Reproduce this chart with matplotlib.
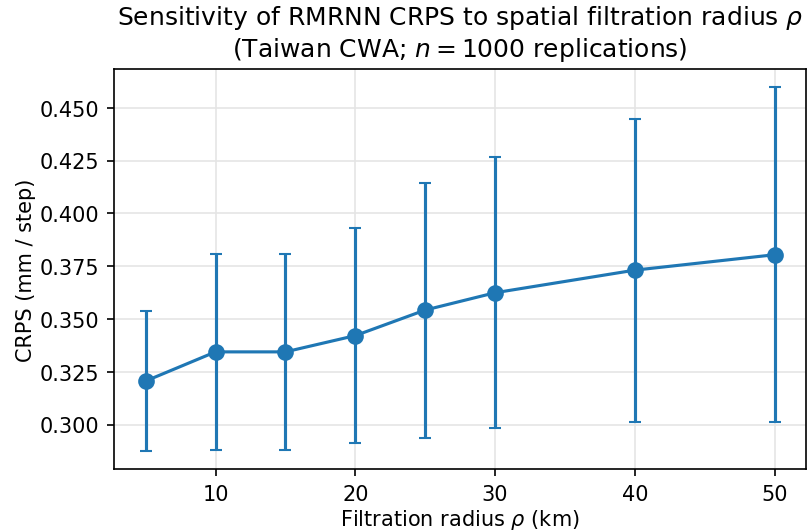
import matplotlib
matplotlib.use("Agg")
import matplotlib.pyplot as plt
import numpy as np

# filtration radius (km)
radius = [5, 10, 15, 20, 25, 30, 40, 50]
# mean CRPS and interval bounds
crps_mean = [0.3206, 0.3344, 0.3344, 0.3421, 0.3542, 0.3624, 0.3731, 0.3804]
crps_low = [0.2875, 0.2879, 0.2879, 0.2911, 0.2935, 0.2983, 0.3012, 0.3011]
crps_high = [0.3539, 0.3809, 0.3809, 0.3932, 0.4146, 0.4268, 0.4448, 0.4598]

mean = np.array(crps_mean)
yerr = [mean - np.array(crps_low), np.array(crps_high) - mean]

fig, ax = plt.subplots(figsize=(5.4, 3.553), dpi=150)
ax.errorbar(radius, crps_mean, yerr=yerr, fmt='-o', color='#1f77b4',
            capsize=3, markersize=7, linewidth=1.5, elinewidth=1.5)
ax.grid(True, color='#e5e5e5', linewidth=0.8)
ax.set_axisbelow(True)
ax.set_xticks([10, 20, 30, 40, 50])
ax.yaxis.set_major_formatter(matplotlib.ticker.FormatStrFormatter('%.3f'))
ax.set_xlabel(r'Filtration radius $\rho$ (km)', labelpad=1.5)
ax.set_ylabel('CRPS (mm / step)', labelpad=2)
ax.set_title('Sensitivity of RMRNN CRPS to spatial filtration radius $\\rho$\n'
             '(Taiwan CWA; $n = 1000$ replications)', fontsize=12)

plt.subplots_adjust(left=0.141, right=0.995, top=0.869, bottom=0.118)
plt.savefig('out.png', dpi=150)
plt.close()
